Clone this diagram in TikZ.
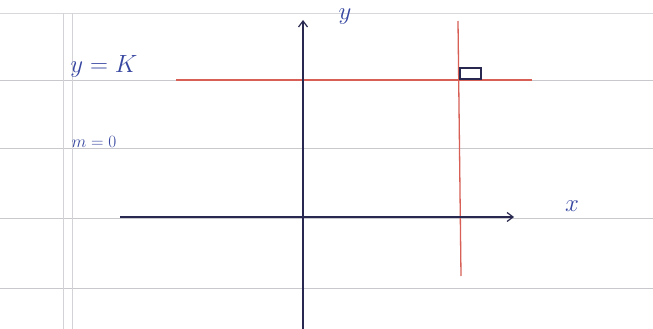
\documentclass[tikz,border=0pt]{standalone}
\usetikzlibrary{arrows.meta}
\definecolor{ink}{RGB}{55,70,160}
\definecolor{axisink}{RGB}{40,40,80}
\definecolor{redink}{RGB}{215,95,85}
\definecolor{rule}{RGB}{200,200,205}
\tikzset{
  ruleline/.style={rule, line width=1pt},
  marginline/.style={rule!80, line width=1pt},
  axisline/.style={axisink, line width=1.2pt},
  redline/.style={redink, line width=1.3pt},
  hand/.style={ink, inner sep=0pt},
  tip/.style={-{Straight Barb[length=6pt,width=9pt]}}
}
\begin{document}
\begin{tikzpicture}[x=1pt,y=-1pt]
\useasboundingbox (0,0) rectangle (653,329);
\fill[white] (0,0) rectangle (653,329);
% page edge and ruled lines
\draw[rule!70, line width=0.8pt] (0,13) -- (653,13);
\foreach \yy in {80,148,218,288} \draw[ruleline] (0,\yy) -- (653,\yy);
\draw[marginline] (63,13) -- (63,329);
\draw[marginline] (72,13) -- (72,329);
% coordinates
\coordinate (ybot) at (303,329);
\coordinate (ytop) at (303,20);
\coordinate (xl) at (120,217);
\coordinate (xr) at (514,217);
\coordinate (hl) at (176,80);
\coordinate (hr) at (532,80);
\coordinate (vt) at (458,21);
\coordinate (vb) at (461,276);
% red lines
\draw[redline] (hl) -- (hr);
\draw[redline] (vt) -- (vb);
% axes
\draw[axisline, tip] (ybot) -- (ytop);
\draw[axisline, tip] (xl) -- (xr);
% right-angle mark
\draw[axisink, line width=1.3pt] (460,68) rectangle (481,79);
% labels
\node[hand, font=\fontsize{28}{30}\selectfont] (ylab) at (345,17) {$y$};
\node[hand, font=\fontsize{28}{30}\selectfont] (yk) at (104,66) {$y=K$};
\node[hand, font=\fontsize{19}{21}\selectfont] (m0) at (94,142) {$m=0$};
\node[hand, font=\fontsize{24}{26}\selectfont] (xlab) at (572,206) {$x$};
\end{tikzpicture}
\end{document}
